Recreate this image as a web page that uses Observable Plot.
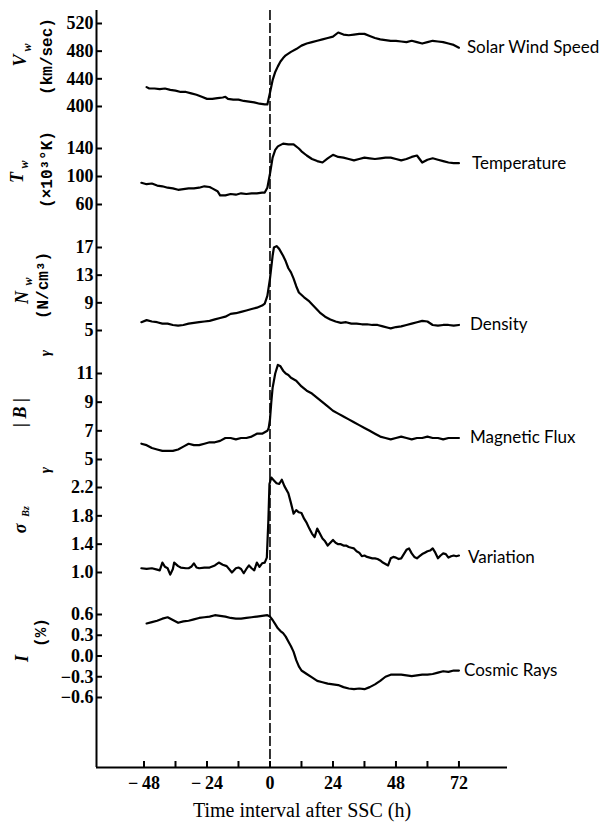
<!DOCTYPE html>
<html><head><meta charset="utf-8">
<script src="https://cdn.jsdelivr.net/npm/d3@7"></script>
<script src="https://cdn.jsdelivr.net/npm/@observablehq/plot@0.6"></script>
<style>
body{margin:0;background:#fff;}
#chart{width:602px;}
#chart svg{display:block;overflow:visible;}
</style></head><body><div id="chart"></div>
<script>
// ---------------- data ----------------
const speedHours = [-47,-46,-44,-42,-40,-38,-36,-34,-32,-30,-28,-26,-24,-22,-20,-18,-17,-16,-14,-12,-10,-8,-6,-4,-2,-1,0,1,2,3,4,5,6,8,10,12,14,16,18,20,22,24,26,28,30,32,34,36,38,40,42,44,46,48,50,52,54,56,58,60,62,64,66,68,70,72];
const speedValues = [428,426,426,425,426,424,423,421,421,419,417,414,411,411,412,413,414,411,410,410,408,407,406,404,403,403,420,438,450,458,465,470,474,479,483,488,491,493,495,497,499,501,507,504,503,504,505,505,502,499,497,496,495,495,494,493,495,493,491,493,495,494,493,491,489,485];

const tempHours = [-49,-47,-45,-43,-41,-39,-37,-35,-33,-31,-29,-27,-25,-23,-22,-20,-19,-17,-15,-13,-11,-9,-7,-5,-3,-2,-1,0,1,2,3,5,7,9,11,12,14,16,18,20,22,24,26,28,30,32,34,36,38,40,42,44,46,48,50,52,54,56,58,60,62,64,66,68,70,72];
const tempValues = [91,89,90,87,86,84,83,81,82,83,83,84,86,85,83,79,73,73,75,74,76,75,76,76,77,77,84,104,127,138,143,147,146,146,140,136,130,125,122,120,126,131,128,127,125,123,125,127,126,125,126,127,127,125,123,125,128,130,120,124,126,124,122,120,119,119];

const densHours = [-49,-47,-45,-43,-41,-39,-37,-35,-33,-31,-29,-27,-25,-23,-21,-19,-17,-15,-13,-11,-9,-7,-5,-3,-2,-1,0,1,1.5,2.5,3.5,5,6,7,8,9,10,11,13,15,17,19,21,23,25,27,29,31,33,35,37,39,41,43,45,46,48,50,52,54,56,58,60,62,64,66,68,70,72];
const densValues = [6.2,6.5,6.3,6.2,6.0,6.0,5.8,5.7,5.8,6.0,6.1,6.2,6.3,6.4,6.6,6.8,7.0,7.4,7.5,7.7,7.9,8.1,8.3,8.6,8.9,10.0,12.5,15.8,17.0,17.2,16.8,15.8,15.0,14.0,13.4,12.5,11.4,10.5,9.8,9.2,8.4,7.6,7.0,6.6,6.3,6.1,6.2,6.0,6.0,5.9,5.9,5.8,5.8,5.6,5.4,5.3,5.5,5.6,5.8,6.0,6.2,6.4,6.3,5.8,5.7,5.8,5.8,5.7,5.8];

const fluxHours = [-49,-47,-45,-43,-41,-39,-37,-35,-33,-31,-29,-27,-25,-23,-21,-19,-17,-15,-13,-11,-9,-7,-5,-3,-2,-1,-0.5,0,0.5,1,2,3,4,5,6,7,8,10,12,14,16,18,20,22,24,26,28,30,32,34,36,38,40,42,44,46,48,50,52,54,56,58,60,62,64,66,68,70,72];
const fluxValues = [6.1,6.0,5.8,5.7,5.6,5.6,5.6,5.7,5.9,6.1,6.0,6.0,6.1,6.2,6.2,6.3,6.5,6.5,6.4,6.5,6.5,6.6,6.8,6.8,6.9,7.0,7.2,7.8,9.0,10.0,11.0,11.6,11.5,11.2,11.0,10.9,10.7,10.5,10.1,9.8,9.6,9.3,9.0,8.7,8.4,8.2,8.0,7.8,7.6,7.4,7.2,7.0,6.8,6.6,6.5,6.4,6.5,6.6,6.5,6.4,6.5,6.5,6.6,6.5,6.5,6.4,6.5,6.5,6.5];

const sigmaHours = [-49,-47,-45,-43,-42,-41,-40,-39,-38,-37,-36.5,-35,-34,-32,-31,-30,-29,-28,-27,-25,-23,-21,-19.5,-18,-16.5,-14.5,-13,-12,-11,-10,-9,-8,-7,-6,-5,-4,-3,-2,-1.2,-0.6,-0.2,0.5,1.5,2.5,3.5,4.5,5.5,7,8,9,10,11,12,13,14,15,16,17,18,19,20,21,22,23,24,25,26,27,28,29,30,31,32,33,34,35,36,37,38,39,40,41,42,43,44,45,46,47,48,49,50,51,52,53,54,55,56,57,58,59,60,61,62,63,64,65,66,67,68,69,70,71,72];
const sigmaValues = [1.06,1.05,1.06,1.04,1.03,1.14,1.08,1.06,0.97,1.05,1.14,1.09,1.07,1.06,1.06,1.08,1.13,1.07,1.06,1.07,1.07,1.10,1.14,1.11,1.09,1.00,1.06,1.07,1.05,0.99,1.05,1.10,1.06,1.03,1.14,1.08,1.13,1.14,1.21,1.75,2.25,2.34,2.30,2.26,2.25,2.31,2.22,2.12,1.98,1.83,1.88,1.85,1.84,1.76,1.70,1.62,1.55,1.50,1.62,1.55,1.48,1.44,1.38,1.42,1.46,1.42,1.40,1.40,1.38,1.38,1.36,1.35,1.34,1.30,1.28,1.23,1.24,1.22,1.21,1.20,1.20,1.19,1.17,1.14,1.12,1.10,1.20,1.22,1.21,1.19,1.20,1.26,1.32,1.34,1.27,1.22,1.20,1.23,1.26,1.28,1.30,1.31,1.34,1.28,1.20,1.24,1.27,1.26,1.21,1.23,1.24,1.23,1.24];

const cosmicHours = [-47,-45,-43,-41,-39,-37,-35,-33,-31,-29,-27,-25,-23,-21,-19,-17,-15,-13,-11,-9,-7,-5,-3,-1,0,1,2,3,4,5,6,7,8,9,10,11,12,14,16,18,20,22,24,26,28,30,32,34,36,38,40,42,44,46,48,50,52,54,56,58,60,62,64,66,68,70,72];
const cosmicValues = [0.47,0.49,0.51,0.54,0.56,0.52,0.48,0.50,0.51,0.53,0.55,0.56,0.57,0.59,0.58,0.57,0.55,0.54,0.54,0.55,0.56,0.57,0.58,0.59,0.57,0.52,0.46,0.40,0.36,0.33,0.28,0.21,0.14,0.06,-0.06,-0.15,-0.21,-0.26,-0.31,-0.36,-0.38,-0.40,-0.41,-0.42,-0.45,-0.47,-0.48,-0.47,-0.48,-0.45,-0.41,-0.36,-0.30,-0.27,-0.27,-0.27,-0.28,-0.29,-0.28,-0.27,-0.27,-0.26,-0.24,-0.22,-0.23,-0.21,-0.21];

// tick labels
const xTicks = [-48,-36,-24,-12,0,12,24,36,48,60,72];
const speedTicks = [400,440,480,520];
const tempTicks = [60,100,140];
const densTicks = [5,9,13,17];
const fluxTicks = [5,7,9,11];
const sigmaTicks = [1.0,1.4,1.8,2.2];
const cosmicTicks = [-0.6,-0.3,0.0,0.3,0.6];
const seriesLabels = ["Solar Wind Speed","Temperature","Density","Magnetic Flux","Variation","Cosmic Rays"];
const xTitle = "Time interval after SSC (h)";

// ---------------- layout ----------------
const X_DOMAIN = [-66.1, 90.5];
const ML = 96, MR = 95;
const TICK = 6;          // inward tick length, px
const MINUS = "\u2212";
const fmtX = d => d % 24 === 0 ? (d < 0 ? MINUS + "\u2009" + (-d) : String(d)) : "";
const fmt1 = d => d < 0 ? MINUS + (-d).toFixed(1) : d.toFixed(1);
const blank = () => "";

const serif = "Liberation Serif", mono = "Liberation Mono";
function title(text, dx, dy, o = {}) {
  return Plot.text([text], {text: d => d, frameAnchor: "left", dx, dy, rotate: -90,
    textAnchor: "middle", lineAnchor: "middle",
    fontFamily: o.family || serif, fontSize: o.size || 18,
    fontStyle: o.style || "normal", fontWeight: o.weight || "bold"});
}

const panels = [
  {hours: speedHours, values: speedValues, domain: [369.6, 538.8], ticks: speedTicks, fmt: d => String(d),
   height: 127, mt: 10, mb: 0, label: seriesLabels[0], ldx: 8, ldy: 0,
   titles: [title("V", -76, -8.5, {style: "italic"}), title("w", -69, -21.5, {style: "italic", size: 12}),
            title("(km/sec)", -50, -12.5, {family: mono, size: 16})]},
  {hours: tempHours, values: tempValues, domain: [30, 170], ticks: tempTicks, fmt: d => String(d),
   height: 98, mt: 0, mb: 0, label: seriesLabels[1], ldx: 13, ldy: 0,
   titles: [title("T", -79, 1, {style: "italic"}), title("w", -72, -12, {style: "italic", size: 12}),
            title("(×10³°K)", -50, -7, {family: mono, size: 16})]},
  {hours: densHours, values: densValues, domain: [1.964, 20.18], ticks: densTicks, fmt: d => String(d),
   height: 126, mt: 0, mb: 0, label: seriesLabels[2], ldx: 11, ldy: 0,
   titles: [title("N", -74, 9, {style: "italic"}), title("w", -68, -7, {style: "italic", size: 12}),
            title("(N/cm³)", -54, -3, {family: mono, size: 16})]},
  {hours: fluxHours, values: fluxValues, domain: [4.093, 12.535], ticks: fluxTicks, fmt: d => String(d),
   height: 121, mt: 0, mb: 0, label: seriesLabels[3], ldx: 11, ldy: 0,
   titles: [title("| B |", -76, 0.5, {style: "italic"}), title("γ", -51, -59, {style: "italic", size: 15}),
            title("γ", -51, 58, {style: "italic", size: 15})]},
  {hours: sigmaHours, values: sigmaValues, domain: [0.7035, 2.412], ticks: sigmaTicks, fmt: fmt1,
   height: 121, mt: 0, mb: 0, label: seriesLabels[4], ldx: 9, ldy: 2,
   titles: [title("σ", -76, -4.5, {style: "italic"}), title("Bz", -71, -21.5, {style: "italic", size: 10})]},
  {hours: cosmicHours, values: cosmicValues, domain: [-1.612, 0.9036], ticks: cosmicTicks, fmt: fmt1,
   height: 233, mt: 0, mb: 59, label: seriesLabels[5], ldx: 5, ldy: 0, last: true,
   titles: [title("I", -74, -22, {style: "italic"}), title("(%)", -56, -48, {family: mono, size: 16})]}
];

const chart = document.getElementById("chart");
for (const p of panels) {
  const data = p.hours.map((h, i) => ({h, v: p.values[i]}));
  const lastPt = [data[data.length - 1]];
  const marks = [
    Plot.ruleX([X_DOMAIN[0]], {stroke: "#000", strokeWidth: 2}),
    Plot.ruleX([0], {stroke: "#000", strokeWidth: 1.6, strokeDasharray: "10,3"}),
    // tick labels (no ticks) left of the axis
    Plot.axisY({ticks: p.ticks, tickFormat: p.fmt, tickSize: 0, tickPadding: 3, label: null}),
    // inward ticks: the axis' own ticks shifted right by their length, labels blank
    Plot.axisY({ticks: p.ticks, tickFormat: blank, tickSize: TICK, dx: TICK, strokeWidth: 2, label: null}),
    Plot.line(data, {x: "h", y: "v", stroke: "#000", strokeWidth: 2.2, strokeLinejoin: "round"}),
    Plot.text(lastPt, {x: "h", y: "v", text: () => p.label, textAnchor: "start", dx: p.ldx, dy: p.ldy,
      fontFamily: "Lato", fontSize: 17, fontWeight: "normal"}),
    ...p.titles
  ];
  if (p.last) {
    marks.push(
      Plot.ruleY([p.domain[0]], {stroke: "#000", strokeWidth: 2}),
      Plot.axisX({ticks: xTicks, tickFormat: fmtX, tickSize: 0, tickPadding: 9, label: null}),
      Plot.axisX({ticks: xTicks, tickFormat: blank, tickSize: TICK, dy: -TICK, strokeWidth: 2, label: null}),
      Plot.text([xTitle], {text: d => d, frameAnchor: "bottom", dy: 43, lineAnchor: "middle",
        fontFamily: serif, fontSize: 20, fontWeight: "normal"})
    );
  }
  const svg = Plot.plot({
    width: 602, height: p.height,
    marginLeft: ML, marginRight: MR, marginTop: p.mt, marginBottom: p.mb,
    x: {domain: X_DOMAIN, axis: null},
    y: {domain: p.domain},
    style: {fontFamily: serif, fontSize: "18px", fontWeight: "bold", color: "#000", background: "transparent", overflow: "visible"},
    marks
  });
  chart.appendChild(svg);
}
</script>
</body></html>
